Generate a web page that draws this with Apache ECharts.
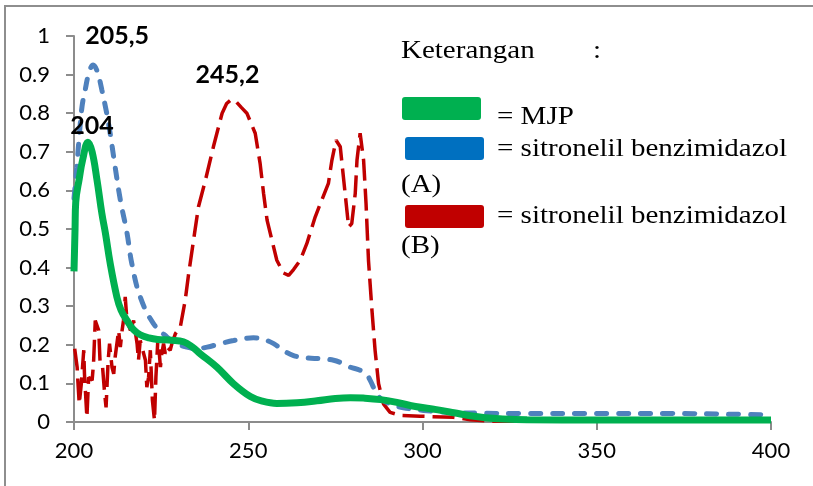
<!DOCTYPE html>
<html>
<head>
<meta charset="utf-8">
<script src="https://cdn.jsdelivr.net/npm/echarts@6/dist/echarts.min.js"></script>
<style>
  html, body { margin: 0; padding: 0; background: #fff; }
  #chart { width: 813px; height: 486px; }
</style>
</head>
<body>
<div id="chart"></div>
<script>
// wavelength (nm) / absorbance
const mjpX = [200, 200.3, 200.5, 201.5, 202.5, 204, 205.2, 206.6, 208, 209, 210.4, 212.3, 213.5, 215.2, 217, 219, 221.5, 224, 228, 231.4, 234, 236.2, 241, 245.8, 250.6, 254, 258.2, 264, 269.7, 275, 279.3, 283, 288, 293, 298, 304, 309, 313.7, 318, 323, 330, 350, 375, 400];
const mjpY = [0.39, 0.5, 0.57, 0.63, 0.68, 0.725, 0.70, 0.627, 0.54, 0.49, 0.41, 0.324, 0.29, 0.263, 0.24, 0.226, 0.218, 0.214, 0.212, 0.208, 0.194, 0.177, 0.142, 0.099, 0.066, 0.054, 0.048, 0.05, 0.055, 0.061, 0.063, 0.062, 0.058, 0.05, 0.04, 0.032, 0.024, 0.016, 0.011, 0.008, 0.006, 0.005, 0.005, 0.005];

const sbaX = [200, 200.8, 201.5, 202.3, 203.2, 204.3, 205.5, 206.6, 208, 209.9, 211.8, 213.3, 215.2, 216.6, 219, 222.8, 226.7, 229.5, 232.4, 235, 238.2, 242, 245.8, 251.5, 254, 257.3, 260, 263, 267, 270.7, 274.5, 277, 279.3, 282.1, 284, 285, 286.9, 288.8, 291.7, 294.5, 300.3, 306, 315, 330, 350, 370, 390, 400];
const sbaY = [0.58, 0.66, 0.74, 0.817, 0.86, 0.905, 0.925, 0.91, 0.86, 0.774, 0.661, 0.575, 0.49, 0.41, 0.324, 0.255, 0.22, 0.203, 0.194, 0.19, 0.194, 0.203, 0.211, 0.218, 0.215, 0.203, 0.186, 0.172, 0.166, 0.164, 0.16, 0.152, 0.142, 0.134, 0.122, 0.108, 0.073, 0.055, 0.044, 0.037, 0.03, 0.026, 0.023, 0.022, 0.022, 0.022, 0.02, 0.018];

const sbbX = [200.2, 200.9, 201.1, 201.5, 202.1, 202.8, 203.0, 203.7, 204.2, 205.2, 205.6, 206.1, 207.1, 207.5, 208.2, 208.8, 209.2, 209.8, 210.2, 210.9, 211.4, 211.8, 212.8, 213.3, 213.8, 214.2, 214.7, 215.2, 216.2, 217.1, 218.1, 218.5, 219.0, 220.0, 220.5, 220.9, 221.4, 221.9, 222.5, 223.1, 223.5, 224.1, 224.8, 225.2, 225.7, 226.2, 226.7, 227.6, 228.1, 229.1, 230.5, 231.9, 232.9, 234.3, 235.7, 237.7, 240, 242.5, 243.8, 245.2, 246.5, 248, 249.6, 252, 253.4, 254.4, 255.4, 256.8, 258.2, 260.1, 261.6, 263, 264.9, 266.8, 269.2, 271.1, 273, 274, 275.2, 276.4, 277.3, 278.1, 278.8, 279.7, 280.7, 281.2, 282.1, 282.6, 283.1, 283.8, 284.5, 285.5, 286.4, 287.4, 288.8, 290.7, 293.6, 299.3, 308.9, 313.7, 320, 350, 400];
const sbbY = [0.19, 0.142, 0.108, 0.047, 0.099, 0.186, 0.125, 0.012, 0.116, 0.108, 0.151, 0.263, 0.237, 0.151, 0.142, 0.073, 0.038, 0.16, 0.203, 0.142, 0.125, 0.168, 0.237, 0.194, 0.237, 0.263, 0.324, 0.263, 0.237, 0.263, 0.203, 0.16, 0.211, 0.177, 0.16, 0.09, 0.116, 0.186, 0.056, 0.004, 0.116, 0.22, 0.142, 0.177, 0.203, 0.177, 0.194, 0.186, 0.203, 0.229, 0.246, 0.315, 0.384, 0.471, 0.557, 0.626, 0.713, 0.8, 0.825, 0.836, 0.83, 0.815, 0.8, 0.748, 0.67, 0.592, 0.523, 0.471, 0.419, 0.386, 0.38, 0.395, 0.419, 0.462, 0.531, 0.575, 0.618, 0.678, 0.73, 0.713, 0.635, 0.566, 0.505, 0.514, 0.592, 0.678, 0.748, 0.752, 0.678, 0.566, 0.419, 0.289, 0.185, 0.099, 0.047, 0.025, 0.017, 0.015, 0.012, 0.006, 0.002, 0.002, 0.002];

const xTicks = [200, 250, 300, 350, 400];
const yTicks = [0, 0.1, 0.2, 0.3, 0.4, 0.5, 0.6, 0.7, 0.8, 0.9, 1];

// peak annotations: [wavelength, absorbance, text]
const mjpPeak = [204, 0.725, '204'];
const sbaPeak = [205.5, 0.925, '205,5'];
const sbbPeak = [245.2, 0.836, '245,2'];

const zip = (xs, ys) => xs.map((x, i) => [x, ys[i]]);

const peakMark = (p, offset) => ({
  symbol: 'circle',
  symbolSize: 1,
  itemStyle: { color: 'rgba(0,0,0,0)' },
  label: {
    show: true,
    position: 'inside',
    offset: offset,
    formatter: p[2],
    fontFamily: 'Lato',
    fontWeight: 'bold',
    fontSize: 25,
    color: '#000'
  },
  data: [{ coord: [p[0], p[1]] }]
});

const legendFont = '25px "Liberation Serif", "Times New Roman", serif';
const legendText = (text, x, y) => ({
  type: 'text',
  x: x,
  y: y,
  scaleX: 1.16,
  style: { text: text, font: legendFont, fill: '#000', align: 'left', verticalAlign: 'middle' }
});
const legendRect = (x, y, color) => ({
  type: 'rect',
  shape: { x: x, y: y, width: 79, height: 23, r: 3 },
  style: { fill: color }
});

const chart = echarts.init(document.getElementById('chart'));

const axisColor = '#8c8c8c';

chart.setOption({
  animation: false,
  grid: { left: 74, right: 42, top: 36, bottom: 64, containLabel: false, outerBoundsMode: 'none' },
  xAxis: {
    type: 'value',
    min: xTicks[0],
    max: xTicks[xTicks.length - 1],
    interval: xTicks[1] - xTicks[0],
    splitLine: { show: false },
    axisLine: { show: true, onZero: false, lineStyle: { color: axisColor, width: 2 } },
    axisTick: { show: true, length: 8, lineStyle: { color: axisColor, width: 2 } },
    axisLabel: { margin: 18, fontFamily: 'Lato', fontSize: 22, color: '#000' }
  },
  yAxis: {
    type: 'value',
    min: yTicks[0],
    max: yTicks[yTicks.length - 1],
    interval: 0.1,
    splitLine: { show: false },
    axisLine: { show: true, lineStyle: { color: axisColor, width: 2 } },
    axisTick: { show: true, length: 8, lineStyle: { color: axisColor, width: 2 } },
    axisLabel: {
      margin: 24,
      fontFamily: 'Lato',
      fontSize: 22,
      color: '#000',
      formatter: v => String(Math.round(v * 10) / 10)
    }
  },
  series: [
    {
      name: 'sitronelil benzimidazol (B)',
      type: 'line',
      data: zip(sbbX, sbbY),
      showSymbol: false,
      smooth: false,
      lineStyle: { color: '#c00000', width: 3.5, type: [22, 8] },
      markPoint: peakMark(sbbPeak, [-4, -24])
    },
    {
      name: 'sitronelil benzimidazol (A)',
      type: 'line',
      data: zip(sbaX, sbaY),
      showSymbol: false,
      smooth: 0.4,
      lineStyle: { color: '#4f81bd', width: 5, type: [10, 12], cap: 'round' },
      markPoint: peakMark(sbaPeak, [24, -29])
    },
    {
      name: 'MJP',
      type: 'line',
      data: zip(mjpX, mjpY),
      showSymbol: false,
      smooth: 0.4,
      lineStyle: { color: '#00b050', width: 7 },
      markPoint: peakMark(mjpPeak, [4, -16])
    }
  ],
  graphic: [
    {
      type: 'rect',
      silent: true,
      shape: { x: 5, y: 6, width: 1000, height: 1000 },
      style: { fill: 'none', stroke: '#8e8e8e', lineWidth: 2 }
    },
    legendText('Keterangan', 401, 51),
    legendText(':', 593, 51),
    legendRect(402, 97, '#00b050'),
    legendText('= MJP', 497, 117),
    legendRect(405, 137, '#0070c0'),
    legendText('= sitronelil benzimidazol', 497, 149),
    legendText('(A)', 401, 185),
    legendRect(405, 205, '#c00000'),
    legendText('= sitronelil benzimidazol', 497, 216),
    legendText('(B)', 401, 246)
  ]
});
</script>
</body>
</html>
